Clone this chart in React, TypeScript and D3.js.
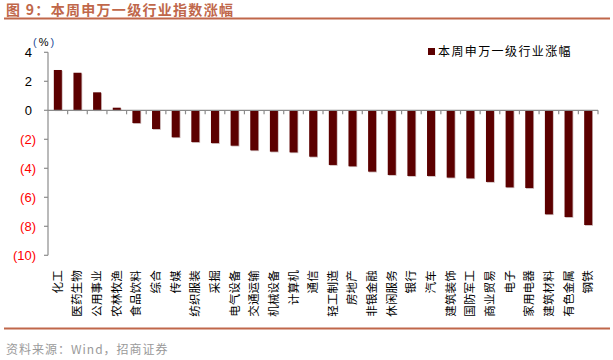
import React, { useEffect, useRef } from "react";
import * as d3 from "d3";

const categories = [
  "化工", "医药生物", "公用事业", "农林牧渔", "食品饮料", "综合", "传媒",
  "纺织服装", "采掘", "电气设备", "交通运输", "机械设备", "计算机", "通信",
  "轻工制造", "房地产", "非银金融", "休闲服务", "银行", "汽车", "建筑装饰",
  "国防军工", "商业贸易", "电子", "家用电器", "建筑材料", "有色金属", "钢铁",
];

const weeklyChange = [
  2.78, 2.59, 1.24, 0.18, -0.88, -1.29, -1.86,
  -2.19, -2.26, -2.44, -2.76, -2.85, -2.9, -3.2,
  -3.77, -3.86, -4.23, -4.46, -4.53, -4.53, -4.64,
  -4.69, -4.94, -5.31, -5.36, -7.17, -7.36, -7.91,
];

const yTicks = [4, 2, 0, -2, -4, -6, -8, -10];

const seriesName = "本周申万一级行业涨幅";
const titleText = "图 9：本周申万一级行业指数涨幅";
const sourceText = "资料来源：Wind，招商证券";

const theme = {
  bar: "#5c0000",
  accent: "#c0674a",
  axis: "#8c8c8c",
  negative: "#ff0000",
  text: "#000000",
  source: "#9a9a9a",
  cjk: "'Noto Sans CJK SC', sans-serif",
  latin: "'Liberation Sans', Arial, sans-serif",
};

const App = () => {
  const svgRef = useRef<SVGSVGElement | null>(null);

  useEffect(() => {
    const width = 613;
    const height = 360;
    const svg = d3.select(svgRef.current);
    svg.selectAll("*").remove();
    svg.attr("width", width).attr("height", height);

    svg.append("rect").attr("width", width).attr("height", height).attr("fill", "#fff");

    // title + rules
    svg
      .append("text")
      .attr("x", 6)
      .attr("y", 15)
      .attr("fill", theme.accent)
      .style("font-family", theme.cjk)
      .style("font-weight", "bold")
      .style("font-size", "14px")
      .style("letter-spacing", "1.3px")
      .text(titleText);

    svg.append("line").attr("x1", 4).attr("x2", 610).attr("y1", 18.5).attr("y2", 18.5)
      .attr("stroke", theme.accent).attr("stroke-width", 2);
    svg.append("line").attr("x1", 4).attr("x2", 610).attr("y1", 328.5).attr("y2", 328.5)
      .attr("stroke", theme.accent).attr("stroke-width", 2);

    svg
      .append("text")
      .attr("x", 6)
      .attr("y", 354)
      .attr("fill", theme.source)
      .style("font-family", theme.cjk)
      .style("font-size", "12px")
      .style("letter-spacing", "1px")
      .text(sourceText);

    // scales
    const x = d3.scaleBand().domain(categories).range([48, 598]).paddingInner(0).paddingOuter(0);
    const y = d3.scaleLinear().domain([-10, 4]).range([255.3, 52.3]);
    const barWidth = 8;

    // y axis
    svg.append("line").attr("x1", 48).attr("x2", 48).attr("y1", y(4)).attr("y2", y(-10))
      .attr("stroke", theme.axis).attr("stroke-width", 1.2);

    const yg = svg.append("g");
    yg.selectAll("line")
      .data(yTicks)
      .enter()
      .append("line")
      .attr("x1", 44)
      .attr("x2", 48)
      .attr("y1", (d) => y(d))
      .attr("y2", (d) => y(d))
      .attr("stroke", theme.axis)
      .attr("stroke-width", 1.2);

    yg.selectAll("text")
      .data(yTicks)
      .enter()
      .append("text")
      .attr("x", (d) => (d < 0 ? 36 : 32))
      .attr("y", (d) => y(d))
      .attr("dy", "0.36em")
      .attr("text-anchor", "end")
      .attr("fill", (d) => (d < 0 ? theme.negative : theme.text))
      .style("font-family", theme.latin)
      .style("font-size", "13px")
      .text((d) => (d < 0 ? `(${-d})` : `${d}`));

    // unit label
    const unit = svg
      .append("text")
      .attr("x", 33)
      .attr("y", 46)
      .style("font-family", theme.latin)
      .style("font-size", "11px");
    unit.append("tspan").attr("fill", "#1f4e9a").text("(");
    unit.append("tspan").attr("fill", theme.text).attr("dx", 2).text("%");
    unit.append("tspan").attr("fill", "#1f4e9a").attr("dx", 2).text(")");

    // bars with a faint shadow edge
    const bars = svg.append("g");
    bars.selectAll(".shadow")
      .data(weeklyChange)
      .enter()
      .append("rect")
      .attr("x", (d, i) => (x(categories[i]) as number) + x.bandwidth() / 2 - barWidth / 2 + 0.8)
      .attr("y", (d) => Math.min(y(d), y(0)) + 0.8)
      .attr("width", barWidth)
      .attr("height", (d) => Math.abs(y(d) - y(0)))
      .attr("fill", "#c9b4b4");

    bars.selectAll(".bar")
      .data(weeklyChange)
      .enter()
      .append("rect")
      .attr("x", (d, i) => (x(categories[i]) as number) + x.bandwidth() / 2 - barWidth / 2)
      .attr("y", (d) => Math.min(y(d), y(0)))
      .attr("width", barWidth)
      .attr("height", (d) => Math.abs(y(d) - y(0)))
      .attr("fill", theme.bar);

    // x axis on zero line
    svg.append("line").attr("x1", 48).attr("x2", 598).attr("y1", y(0)).attr("y2", y(0))
      .attr("stroke", theme.axis).attr("stroke-width", 1.2);

    const boundaries = categories.map((c) => (x(c) as number) + x.bandwidth());
    svg.append("g")
      .selectAll("line")
      .data(boundaries)
      .enter()
      .append("line")
      .attr("x1", (d) => d)
      .attr("x2", (d) => d)
      .attr("y1", y(0))
      .attr("y2", y(0) + 4)
      .attr("stroke", theme.axis)
      .attr("stroke-width", 1.2);

    // category labels, rotated, reading bottom to top
    svg.append("g")
      .selectAll("text")
      .data(categories)
      .enter()
      .append("text")
      .attr("transform", (d) => `translate(${(x(d) as number) + x.bandwidth() / 2},270) rotate(-90)`)
      .attr("dy", "0.35em")
      .attr("text-anchor", "end")
      .attr("fill", theme.text)
      .style("font-family", theme.cjk)
      .style("font-size", "11.5px")
      .style("letter-spacing", "0.2px")
      .text((d) => d);

    // legend
    svg.append("rect").attr("x", 428).attr("y", 48).attr("width", 7).attr("height", 7).attr("fill", theme.bar);
    svg
      .append("text")
      .attr("x", 438)
      .attr("y", 52)
      .attr("dy", "0.35em")
      .attr("fill", theme.text)
      .style("font-family", theme.cjk)
      .style("font-size", "12px")
      .style("letter-spacing", "1.4px")
      .text(seriesName);
  }, []);

  return <svg ref={svgRef} style={{ position: "absolute", left: 0, top: 0 }}></svg>;
};

export default App;
